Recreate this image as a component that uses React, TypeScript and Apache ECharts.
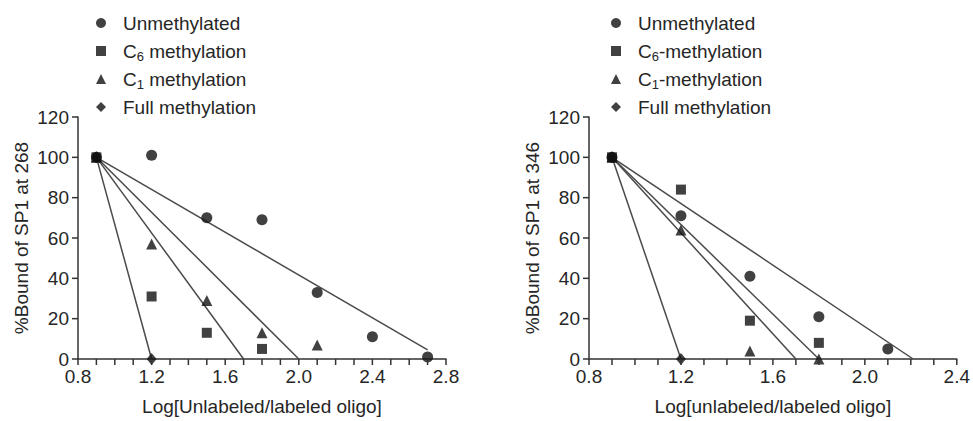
import React, { useEffect, useRef } from "react";
import * as echarts from "echarts";

// ---- Data ----
const legendLeft = ["Unmethylated", "C6 methylation", "C1 methylation", "Full methylation"];
const legendRight = ["Unmethylated", "C6-methylation", "C1-methylation", "Full methylation"];

// Left panel: SP1 at 268
const leftUnmeth = [[0.9, 100], [1.2, 101], [1.5, 70], [1.8, 69], [2.1, 33], [2.4, 11], [2.7, 1]];
const leftC6 = [[0.9, 100], [1.2, 31], [1.5, 13], [1.8, 5]];
const leftC1 = [[0.9, 100], [1.2, 57], [1.5, 29], [1.8, 13], [2.1, 7]];
const leftFull = [[0.9, 100], [1.2, 0]];
const leftFitUnmeth = [[0.9, 100], [2.7, 4.5]];
const leftFitC6 = [[0.9, 100], [1.7, 0]];
const leftFitC1 = [[0.9, 100], [2.0, 0]];
const leftFitFull = [[0.9, 100], [1.2, 0]];

// Right panel: SP1 at 346
const rightUnmeth = [[0.9, 100], [1.2, 71], [1.5, 41], [1.8, 21], [2.1, 5]];
const rightC6 = [[0.9, 100], [1.2, 84], [1.5, 19], [1.8, 8]];
const rightC1 = [[0.9, 100], [1.2, 64], [1.5, 4], [1.8, 0]];
const rightFull = [[0.9, 100], [1.2, 0]];
const rightFitUnmeth = [[0.9, 100], [2.21, 0]];
const rightFitC6 = [[0.9, 100], [1.8, 0]];
const rightFitC1 = [[0.9, 100], [1.7, 0]];
const rightFitFull = [[0.9, 100], [1.2, 0]];

// Axes
const xRangeLeft = [0.8, 2.8];
const xRangeRight = [0.8, 2.4];
const xTicksLeft = [0.8, 0.9, 1.0, 1.1, 1.2, 1.3, 1.4, 1.5, 1.6, 1.7, 1.8, 1.9, 2.0, 2.1, 2.2, 2.3, 2.4, 2.5, 2.6, 2.7, 2.8];
const xTicksRight = [0.8, 0.9, 1.0, 1.1, 1.2, 1.3, 1.4, 1.5, 1.6, 1.7, 1.8, 1.9, 2.0, 2.1, 2.2, 2.3, 2.4];
const xTickStep = 0.1;
const xLabelStep = 0.4;
const yRange = [0, 120];
const yTicks = [0, 20, 40, 60, 80, 100, 120];
const yStep = 20;

const FONT = "Liberation Sans, Arial, sans-serif";
const TXT = "#262626";
const AX = "#333333";
const LINE = "#4a4a4a";
const MARK = "#111111";
const TICK_LEN = 6;

function xAxis(grid: number, range: number[], name: string) {
  return {
    gridIndex: grid,
    type: "value",
    min: range[0],
    max: range[1],
    interval: xTickStep,
    name,
    nameLocation: "middle",
    nameGap: 38,
    nameTextStyle: { fontSize: 19, color: TXT, fontFamily: FONT },
    axisLine: { show: true, onZero: false, lineStyle: { color: AX, width: 1.5 } },
    axisTick: { show: false },
    splitLine: { show: false },
    axisLabel: {
      show: true,
      showMinLabel: true,
      showMaxLabel: true,
      formatter: (v: number) => {
        const k = (v - range[0]) / xLabelStep;
        return Math.abs(k - Math.round(k)) < 1e-6 ? v.toFixed(1) : "";
      },
      fontSize: 19,
      color: TXT,
      fontFamily: FONT,
      margin: 8,
    },
  };
}

function yAxis(grid: number, name: string) {
  return {
    gridIndex: grid,
    type: "value",
    min: yRange[0],
    max: yRange[1],
    interval: yStep,
    name,
    nameLocation: "middle",
    nameGap: 47,
    nameTextStyle: { fontSize: 19, color: TXT, fontFamily: FONT },
    axisLine: { show: true, lineStyle: { color: AX, width: 1.5 } },
    axisTick: { show: false },
    splitLine: { show: false },
    axisLabel: { show: true, showMinLabel: true, showMaxLabel: true, fontSize: 19, color: TXT, fontFamily: FONT, margin: 9 },
  };
}

// Tick marks drawn through the library's own scales (api.coord)
function xTickSeries(ticks: number[], yBase: number, idx: number) {
  return {
    type: "custom",
    xAxisIndex: idx,
    yAxisIndex: idx,
    silent: true,
    clip: false,
    z: 10,
    data: ticks.map((t) => [t, yBase]),
    renderItem: (_p: any, api: any) => {
      const pt = api.coord([api.value(0), api.value(1)]);
      return {
        type: "line",
        shape: { x1: pt[0], y1: pt[1], x2: pt[0], y2: pt[1] + TICK_LEN },
        style: { stroke: AX, lineWidth: 1.5 },
      };
    },
  };
}

function yTickSeries(ticks: number[], xBase: number, idx: number) {
  return {
    type: "custom",
    xAxisIndex: idx,
    yAxisIndex: idx,
    silent: true,
    clip: false,
    z: 10,
    data: ticks.map((t) => [xBase, t]),
    renderItem: (_p: any, api: any) => {
      const pt = api.coord([api.value(0), api.value(1)]);
      return {
        type: "line",
        shape: { x1: pt[0] - TICK_LEN, y1: pt[1], x2: pt[0], y2: pt[1] },
        style: { stroke: AX, lineWidth: 1.5 },
      };
    },
  };
}

function scatter(name: string, data: number[][], symbol: string, size: number | number[], idx: number) {
  return {
    type: "scatter",
    name,
    data,
    symbol,
    symbolSize: size,
    xAxisIndex: idx,
    yAxisIndex: idx,
    itemStyle: { color: MARK },
    z: 5,
  };
}

function fit(data: number[][], idx: number) {
  return {
    type: "line",
    data,
    symbol: "none",
    xAxisIndex: idx,
    yAxisIndex: idx,
    lineStyle: { color: LINE, width: 1.5 },
    silent: true,
    z: 3,
  };
}

function legend(left: number, names: string[]) {
  return {
    left,
    top: 6,
    orient: "vertical",
    itemWidth: 10,
    itemHeight: 10,
    itemGap: 4,
    selectedMode: false,
    data: names,
    formatter: (n: string) => n.replace(/C(\d)/, "C{sub|$1}"),
    textStyle: {
      fontSize: 19,
      color: TXT,
      fontFamily: FONT,
      lineHeight: 24,
      padding: [0, 0, 0, 12],
      rich: {
        sub: { fontSize: 13, lineHeight: 13, verticalAlign: "bottom", color: TXT, fontFamily: FONT },
      },
    },
  };
}

export default function App() {
  const ref = useRef<HTMLDivElement>(null);
  useEffect(() => {
    if (!ref.current) return;
    const chart = echarts.init(ref.current, undefined, { renderer: "svg" });
    chart.setOption({
      animation: false,
      grid: [
        { left: 78, top: 117, width: 368, height: 246 },
        { left: 589, top: 117, width: 368, height: 246 },
      ],
      legend: [legend(91, legendLeft), legend(606, legendRight)],
      xAxis: [
        xAxis(0, xRangeLeft, "Log[Unlabeled/labeled oligo]"),
        xAxis(1, xRangeRight, "Log[unlabeled/labeled oligo]"),
      ],
      yAxis: [yAxis(0, "%Bound of SP1 at 268"), yAxis(1, "%Bound of SP1 at 346")],
      series: [
        xTickSeries(xTicksLeft, yRange[0], 0),
        yTickSeries(yTicks, xRangeLeft[0], 0),
        xTickSeries(xTicksRight, yRange[0], 1),
        yTickSeries(yTicks, xRangeRight[0], 1),
        fit(leftFitUnmeth, 0),
        fit(leftFitC6, 0),
        fit(leftFitC1, 0),
        fit(leftFitFull, 0),
        scatter(legendLeft[0], leftUnmeth, "circle", 11, 0),
        scatter(legendLeft[1], leftC6, "rect", 10, 0),
        scatter(legendLeft[2], leftC1, "triangle", 11, 0),
        scatter(legendLeft[3], leftFull, "diamond", [10, 12], 0),
        fit(rightFitUnmeth, 1),
        fit(rightFitC6, 1),
        fit(rightFitC1, 1),
        fit(rightFitFull, 1),
        scatter(legendRight[0], rightUnmeth, "circle", 11, 1),
        scatter(legendRight[1], rightC6, "rect", 10, 1),
        scatter(legendRight[2], rightC1, "triangle", 11, 1),
        scatter(legendRight[3], rightFull, "diamond", [10, 12], 1),
      ],
    });
    return () => chart.dispose();
  }, []);
  return (
    <div
      ref={ref}
      style={{ position: "fixed", left: 0, top: 0, width: 973, height: 421, background: "#fff" }}
    />
  );
}
